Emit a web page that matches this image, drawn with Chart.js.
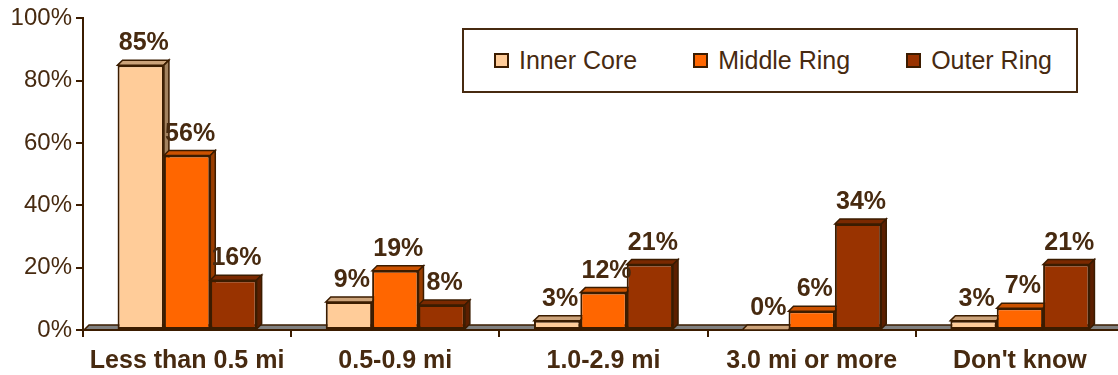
<!DOCTYPE html>
<html>
<head>
<meta charset="utf-8">
<title>Distance by ring</title>
<script src="https://cdn.jsdelivr.net/npm/chart.js@4/dist/chart.umd.min.js"></script>
<style>
  html, body { margin: 0; padding: 0; background: #ffffff; }
  #wrap { position: relative; width: 1118px; height: 375px; overflow: hidden; }
  #chart { position: absolute; left: 0; top: 0; }
  #legend {
    position: absolute; left: 462px; top: 28px; width: 616px; height: 65px;
    box-sizing: border-box; border: 2px solid #472a10; background: #ffffff;
    display: flex; align-items: center; padding-left: 30px; white-space: nowrap;
    font-family: "Liberation Sans", Arial, sans-serif; font-size: 25px; color: #472a10;
  }
  #legend .item { display: flex; align-items: center; flex: 0 0 auto; margin-right: 56px; line-height: 1; }
  #legend .swatch { width: 15px; height: 15px; box-sizing: border-box; border: 2px solid #3b1c00; margin-right: 10px; flex: 0 0 auto; }
</style>
</head>
<body>
<div id="wrap">
  <canvas id="chart" width="1118" height="375"></canvas>
  <div id="legend"></div>
</div>
<script>
// Categories, series and axis ticks
const categories = ['Less than 0.5 mi', '0.5-0.9 mi', '1.0-2.9 mi', '3.0 mi or more', "Don't know"];
const innerCore  = [85, 9, 3, 0, 3];
const middleRing = [56, 19, 12, 6, 7];
const outerRing  = [16, 8, 21, 34, 21];
const yTicks     = [0, 20, 40, 60, 80, 100];
const yTickLabels = ['0%', '20%', '40%', '60%', '80%', '100%'];

const TEXT = '#472a10';
const EDGE = '#3b1c00';
const DEPTH = 5;
const X_OVERHANG = 6; // the category axis runs a little past the right edge of the canvas

Chart.defaults.font.family = '"Liberation Sans", Arial, sans-serif';
Chart.defaults.color = TEXT;

// Draws the floor slab, the top and side faces of each column, and value labels
const columns3d = {
  id: 'columns3d',
  afterLayout(chart) {
    const xs = chart.scales.x;
    xs.right += X_OVERHANG;
    xs.width += X_OVERHANG;
    xs.configure();
  },
  beforeDatasetsDraw(chart) {
    const ctx = chart.ctx;
    const left = chart.chartArea.left;
    const right = chart.scales.x.right;
    const bottom = chart.chartArea.bottom;
    ctx.save();
    ctx.beginPath();
    ctx.moveTo(left + 1, bottom);
    ctx.lineTo(left + 1 + DEPTH, bottom - DEPTH);
    ctx.lineTo(right + DEPTH, bottom - DEPTH);
    ctx.lineTo(right, bottom);
    ctx.closePath();
    ctx.fillStyle = '#808080';
    ctx.fill();
    ctx.lineWidth = 1.5;
    ctx.strokeStyle = EDGE;
    ctx.stroke();
    ctx.beginPath();
    ctx.moveTo(left, bottom);
    ctx.lineTo(right, bottom);
    ctx.lineWidth = 2;
    ctx.stroke();
    ctx.restore();
  },
  beforeDatasetDraw() { return false; },
  afterDatasetsDraw(chart, args, opts) {
    const ctx = chart.ctx;
    const poly = (pts, fill) => {
      ctx.beginPath();
      ctx.moveTo(pts[0][0], pts[0][1]);
      for (let k = 1; k < pts.length; k++) ctx.lineTo(pts[k][0], pts[k][1]);
      ctx.closePath();
      ctx.fillStyle = fill;
      ctx.fill();
      ctx.stroke();
    };
    ctx.save();
    chart.data.datasets.forEach((ds, j) => {
      const meta = chart.getDatasetMeta(j);
      const shade = opts.shades[j];
      meta.data.forEach(bar => {
        bar.draw(ctx);
        const { x, y, base, width } = bar.getProps(['x', 'y', 'base', 'width'], true);
        const l = x - width / 2, r = x + width / 2;
        const t = Math.min(y, base), b = Math.max(y, base);
        ctx.lineWidth = 1.5;
        ctx.strokeStyle = EDGE;
        poly([[l, t], [l + DEPTH, t - DEPTH], [r + DEPTH, t - DEPTH], [r, t]], shade.top);
        poly([[r, t], [r + DEPTH, t - DEPTH], [r + DEPTH, b - DEPTH], [r, b]], shade.side);
      });
    });
    ctx.fillStyle = TEXT;
    ctx.font = 'bold 25px "Liberation Sans", Arial, sans-serif';
    ctx.textAlign = 'center';
    ctx.textBaseline = 'alphabetic';
    chart.data.datasets.forEach((ds, j) => {
      const meta = chart.getDatasetMeta(j);
      meta.data.forEach((bar, i) => {
        const { x, y } = bar.getProps(['x', 'y'], true);
        ctx.fillText(ds.data[i] + '%', x + 3, y - 15);
      });
    });
    ctx.restore();
  }
};

const chart = new Chart(document.getElementById('chart'), {
  type: 'bar',
  data: {
    labels: categories,
    datasets: [
      { label: 'Inner Core',  data: innerCore,  backgroundColor: '#FFCC99' },
      { label: 'Middle Ring', data: middleRing, backgroundColor: '#FF6600' },
      { label: 'Outer Ring',  data: outerRing,  backgroundColor: '#993300' }
    ]
  },
  options: {
    responsive: false,
    devicePixelRatio: 1,
    animation: false,
    events: [],
    layout: { padding: { top: 18, right: 0, left: 0, bottom: 0 } },
    datasets: {
      bar: {
        categoryPercentage: 0.668,
        barPercentage: 1,
        borderColor: EDGE,
        borderWidth: 2,
        borderSkipped: false
      }
    },
    scales: {
      x: {
        afterFit(scale) { scale.height = 45; },
        grid: { display: true, drawOnChartArea: false, offset: true, tickLength: 7, color: EDGE, lineWidth: 2 },
        border: { display: true, color: EDGE, width: 2 },
        ticks: { font: { size: 25, weight: 'bold' }, color: TEXT, padding: 9, maxRotation: 0, autoSkip: false }
      },
      y: {
        min: 0,
        max: 100,
        afterFit(scale) { scale.width = 83; },
        afterBuildTicks(scale) { scale.ticks = yTicks.map(v => ({ value: v })); },
        grid: { display: true, drawOnChartArea: false, tickLength: 7, color: EDGE, lineWidth: 2 },
        border: { display: true, color: EDGE, width: 2 },
        ticks: {
          font: { size: 24 },
          color: TEXT,
          padding: 4,
          callback: (v) => yTickLabels[yTicks.indexOf(v)]
        }
      }
    },
    plugins: {
      legend: { display: false },
      tooltip: { enabled: false },
      columns3d: {
        shades: [
          { top: '#CCA37A', side: '#A3825F' },
          { top: '#CC5200', side: '#993D00' },
          { top: '#7A2900', side: '#5C1F00' }
        ]
      }
    }
  },
  plugins: [columns3d]
});

// Legend built from the chart's own legend items
const legendEl = document.getElementById('legend');
Chart.defaults.plugins.legend.labels.generateLabels(chart).forEach(item => {
  const el = document.createElement('div');
  el.className = 'item';
  const sw = document.createElement('span');
  sw.className = 'swatch';
  sw.style.background = item.fillStyle;
  const tx = document.createElement('span');
  tx.textContent = item.text;
  el.appendChild(sw);
  el.appendChild(tx);
  legendEl.appendChild(el);
});
</script>
</body>
</html>
